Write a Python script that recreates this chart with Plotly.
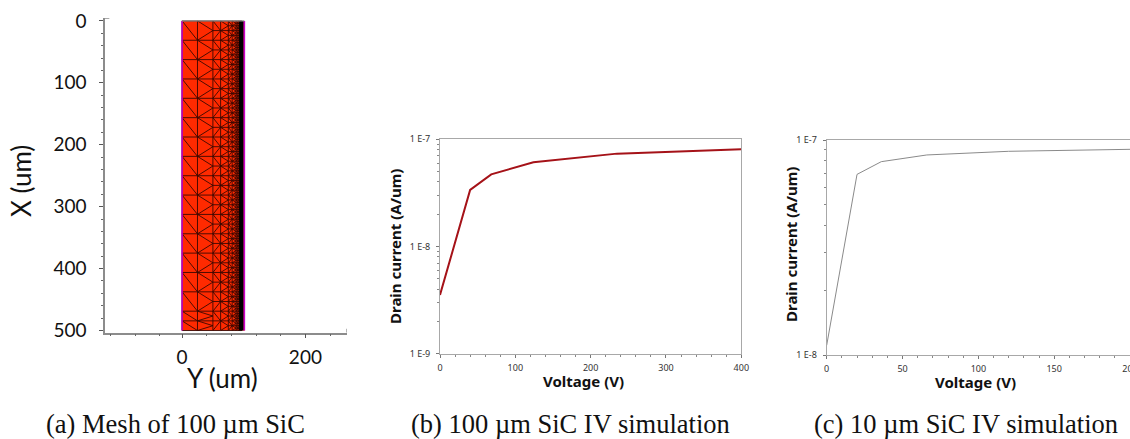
import plotly.graph_objects as go

W, H = 1130, 439

# Panel (b)
volt_b = [0, 40, 68, 124, 235, 400]
curr_b = [3.53e-9, 3.37e-8, 4.71e-8, 6.1e-8, 7.35e-8, 8.07e-8]
# Panel (c)
volt_c = [0, 20, 36, 66, 120, 200]
curr_c = [1.11e-8, 6.92e-8, 7.93e-8, 8.52e-8, 8.86e-8, 9.05e-8]

# Panel (a) mesh: column edges along Y and the row height in each column
mesh_cols = [0, 25, 50, 62.5, 75, 81.25, 87.5, 90.6, 93.75, 95.3, 96.9]
mesh_rows = [31.25, 31.25, 15.625, 15.625, 7.8125, 7.8125, 3.90625, 3.90625, 1.953, 1.953]
row_marks = [0, 31.25, 62.5, 93.75, 125, 156.25, 187.5, 218.75, 250, 281.25, 312.5, 343.75,
             375, 406.25, 437.5, 468.75, 484.4, 500]
block_y = [0, 102, 102, 0, 0]
block_x = [0, 0, 500, 500, 0]
dense_y = [92.5, 100, 100, 92.5, 92.5]
dense_x = [0, 0, 500, 500, 0]

ticks_a_x = [0, 200]
minor_a_x = [-116, -76, -36, 40, 80, 120, 160, 240]
ticks_a_y = [0, 100, 200, 300, 400, 500]
minor_a_y = [20, 40, 60, 80, 120, 140, 160, 180, 220, 240, 260, 280, 320, 340,
             360, 380, 420, 440, 460, 480]
ticks_log_b = [1e-9, 1e-8, 1e-7]
labels_log_b = ["1 E-9", "1 E-8", "1 E-7"]
ticks_log_c = [1e-8, 1e-7]
labels_log_c = ["1 E-8", "1 E-7"]
minor_b = [2e-9, 3e-9, 4e-9, 5e-9, 6e-9, 7e-9, 8e-9, 9e-9, 2e-8, 3e-8, 4e-8, 5e-8, 6e-8, 7e-8, 8e-8, 9e-8]
minor_c = [2e-8, 3e-8, 4e-8, 5e-8, 6e-8, 7e-8, 8e-8, 9e-8]

captions = ["(a) Mesh of 100 µm SiC", "(b) 100 µm SiC IV simulation", "(c) 10 µm SiC IV simulation"]
caption_x = [175, 570.5, 966]


def px_x(a, b):
    return [a / W, b / W]


def px_y(top, bottom):
    return [1 - bottom / H, 1 - top / H]


# Build the mesh wire-frame
mx, my = [], []


def seg(x0, y0, x1, y1):
    mx.extend([x0, x1, None])
    my.extend([y0, y1, None])


for c in mesh_cols:
    seg(c, 0, c, 500)
for i in range(len(mesh_cols) - 1):
    x0, x1, h = mesh_cols[i], mesh_cols[i + 1], mesh_rows[i]
    if i < 2:
        rows = row_marks
    else:
        n = int(round(500 / h))
        rows = [k * h for k in range(n + 1)]
    for k in range(len(rows) - 1):
        y0, y1 = rows[k], rows[k + 1]
        seg(x0, y0, x1, y0)
        if i == 0:
            seg(x0, y0, x1, y1)
        elif i % 2 == 1:
            ym = (y0 + y1) / 2
            seg(x0, y0, x1, ym)
            seg(x0, y1, x1, ym)
        else:
            if k % 2 == 0:
                seg(x0, y0, x1, y1)
            else:
                seg(x0, y1, x1, y0)
    seg(x0, 500, x1, 500)

fig = go.Figure()
fig.add_trace(go.Scatter(x=block_y, y=block_x, mode="lines", fill="toself", fillcolor="#FF2A00",
                         line=dict(color="#FF2A00", width=0), xaxis="x", yaxis="y", hoverinfo="skip"))
fig.add_trace(go.Scatter(x=mx, y=my, mode="lines", line=dict(color="#3A0800", width=0.9),
                         xaxis="x", yaxis="y", hoverinfo="skip"))
fig.add_trace(go.Scatter(x=dense_y, y=dense_x, mode="lines", fill="toself", fillcolor="#000000",
                         line=dict(color="#000000", width=0), xaxis="x", yaxis="y", hoverinfo="skip"))
fig.add_trace(go.Scatter(x=[0, 0], y=[0, 500], mode="lines", line=dict(color="#C000C0", width=1.6),
                         xaxis="x", yaxis="y", hoverinfo="skip"))
fig.add_trace(go.Scatter(x=[101, 101], y=[0, 500], mode="lines", line=dict(color="#C800C8", width=1.6),
                         xaxis="x", yaxis="y", hoverinfo="skip"))
fig.add_trace(go.Scatter(x=[0, 101], y=[0, 0], mode="lines", line=dict(color="#909090", width=1.2),
                         xaxis="x", yaxis="y", hoverinfo="skip"))
# Small end caps of panel (a)'s axes
fig.add_trace(go.Scatter(x=[-125, -118], y=[-4.2, -4.2], mode="lines", line=dict(color="#8C8C8C", width=1.2),
                         xaxis="x", yaxis="y", hoverinfo="skip"))
fig.add_trace(go.Scatter(x=[267, 267], y=[503.5, 497], mode="lines", line=dict(color="#8C8C8C", width=1.2),
                         xaxis="x", yaxis="y", hoverinfo="skip"))
fig.add_trace(go.Scatter(x=volt_b, y=curr_b, mode="lines", line=dict(color="#A51218", width=2),
                         xaxis="x2", yaxis="y2"))
fig.add_trace(go.Scatter(x=volt_c, y=curr_c, mode="lines", line=dict(color="#8A8A8A", width=1),
                         xaxis="x3", yaxis="y3"))

GREY = "#8C8C8C"
TFONT_A = dict(family="Lato, Open Sans, sans-serif", size=19, color="#111")
TITLE_A = dict(family="Lato, Open Sans, sans-serif", size=26, color="#111")
TFONT = dict(family="Noto Sans, Open Sans, sans-serif", size=9, color="#333")
TITLE = dict(family="Noto Sans, Open Sans, sans-serif", size=15, color="#111", weight="bold")


def label(text, x, y, font, angle=0):
    return dict(text=text, x=x / W, y=1 - y / H, xref="paper", yref="paper", showarrow=False,
                xanchor="center", yanchor="middle", textangle=angle, font=font)


notes = [label(t, x, 423.5, dict(family="Liberation Serif, serif", size=26.5, color="#111"))
         for t, x in zip(captions, caption_x)]
notes += [
    label("Y (um)", 222.5, 378, TITLE_A),
    label("X (um)", 21, 181, TITLE_A, -90),
    label("Voltage (V)", 583, 380.5, TITLE),
    label("Drain current (A/um)", 395, 247, TITLE, -90),
    label("Voltage (V)", 975.5, 382, TITLE),
    label("Drain current (A/um)", 791, 245, TITLE, -90),
]

fig.update_layout(
    width=W, height=H, margin=dict(l=0, r=0, t=0, b=0), autosize=False, showlegend=False,
    paper_bgcolor="white", plot_bgcolor="white",
    xaxis=dict(domain=px_x(105, 346.7), range=[-125, 267], anchor="y", showgrid=False, zeroline=False,
               automargin=False,
               showline=True, linecolor=GREY, linewidth=1.5, tickmode="array", tickvals=ticks_a_x,
               ticktext=[str(v) for v in ticks_a_x], ticks="outside", ticklen=4, tickcolor="#555",
               tickfont=TFONT_A, ticklabelstandoff=3,
               minor=dict(tickmode="array", tickvals=minor_a_x, ticks="outside", ticklen=2, tickcolor="#666")),
    yaxis=dict(domain=px_y(18.3, 332.7), range=[503.5, -4.2], anchor="x", showgrid=False, zeroline=False,
               automargin=False,
               showline=True, linecolor=GREY, linewidth=1.5, tickmode="array", tickvals=ticks_a_y,
               ticktext=[str(v) for v in ticks_a_y], ticks="outside", ticklen=4, tickcolor="#555",
               tickfont=TFONT_A, ticklabelstandoff=9,
               minor=dict(tickmode="array", tickvals=minor_a_y, ticks="outside", ticklen=2, tickcolor="#666")),
    xaxis2=dict(domain=px_x(440, 741.3), range=[0, 400], anchor="y2", showgrid=False, zeroline=False,
                automargin=False,
                showline=True, mirror=True, linecolor="#A8A8A8", linewidth=1, tickvals=[0, 100, 200, 300, 400],
                ticks="outside", ticklen=3, tickcolor="#777", tickfont=TFONT, ticklabelstandoff=2,
                ticklabeloverflow="allow",
                minor=dict(dtick=20, ticks="outside", ticklen=2, tickcolor="#888")),
    yaxis2=dict(domain=px_y(139.3, 353.7), type="log", range=[-9, -7], anchor="x2", showgrid=False, zeroline=False,
                automargin=False,
                showline=True, mirror=True, linecolor="#A8A8A8", linewidth=1, tickmode="array", tickvals=ticks_log_b,
                ticktext=labels_log_b, ticks="outside", ticklen=3, tickcolor="#777", tickfont=TFONT,
                ticklabelstandoff=4,
                minor=dict(tickmode="array", tickvals=minor_b, ticks="outside", ticklen=2, tickcolor="#888")),
    xaxis3=dict(domain=px_x(826.7, 1130), range=[0, 200], anchor="y3", showgrid=False, zeroline=False,
                automargin=False,
                showline=True, mirror=True, linecolor="#A8A8A8", linewidth=1, tickvals=[0, 50, 100, 150, 200],
                ticks="outside", ticklen=3, tickcolor="#777", tickfont=TFONT, ticklabelstandoff=2,
                ticklabeloverflow="allow",
                minor=dict(dtick=10, ticks="outside", ticklen=2, tickcolor="#888")),
    yaxis3=dict(domain=px_y(140, 355), type="log", range=[-8, -7], anchor="x3", showgrid=False, zeroline=False,
                automargin=False,
                showline=True, mirror=True, linecolor="#A8A8A8", linewidth=1, tickmode="array", tickvals=ticks_log_c,
                ticktext=labels_log_c, ticks="outside", ticklen=3, tickcolor="#777", tickfont=TFONT,
                ticklabelstandoff=4,
                minor=dict(tickmode="array", tickvals=minor_c, ticks="outside", ticklen=2, tickcolor="#888")),
    annotations=notes,
)

fig.write_html("out.html", config=dict(displayModeBar=False),
               post_script="document.body.style.margin='0';")
